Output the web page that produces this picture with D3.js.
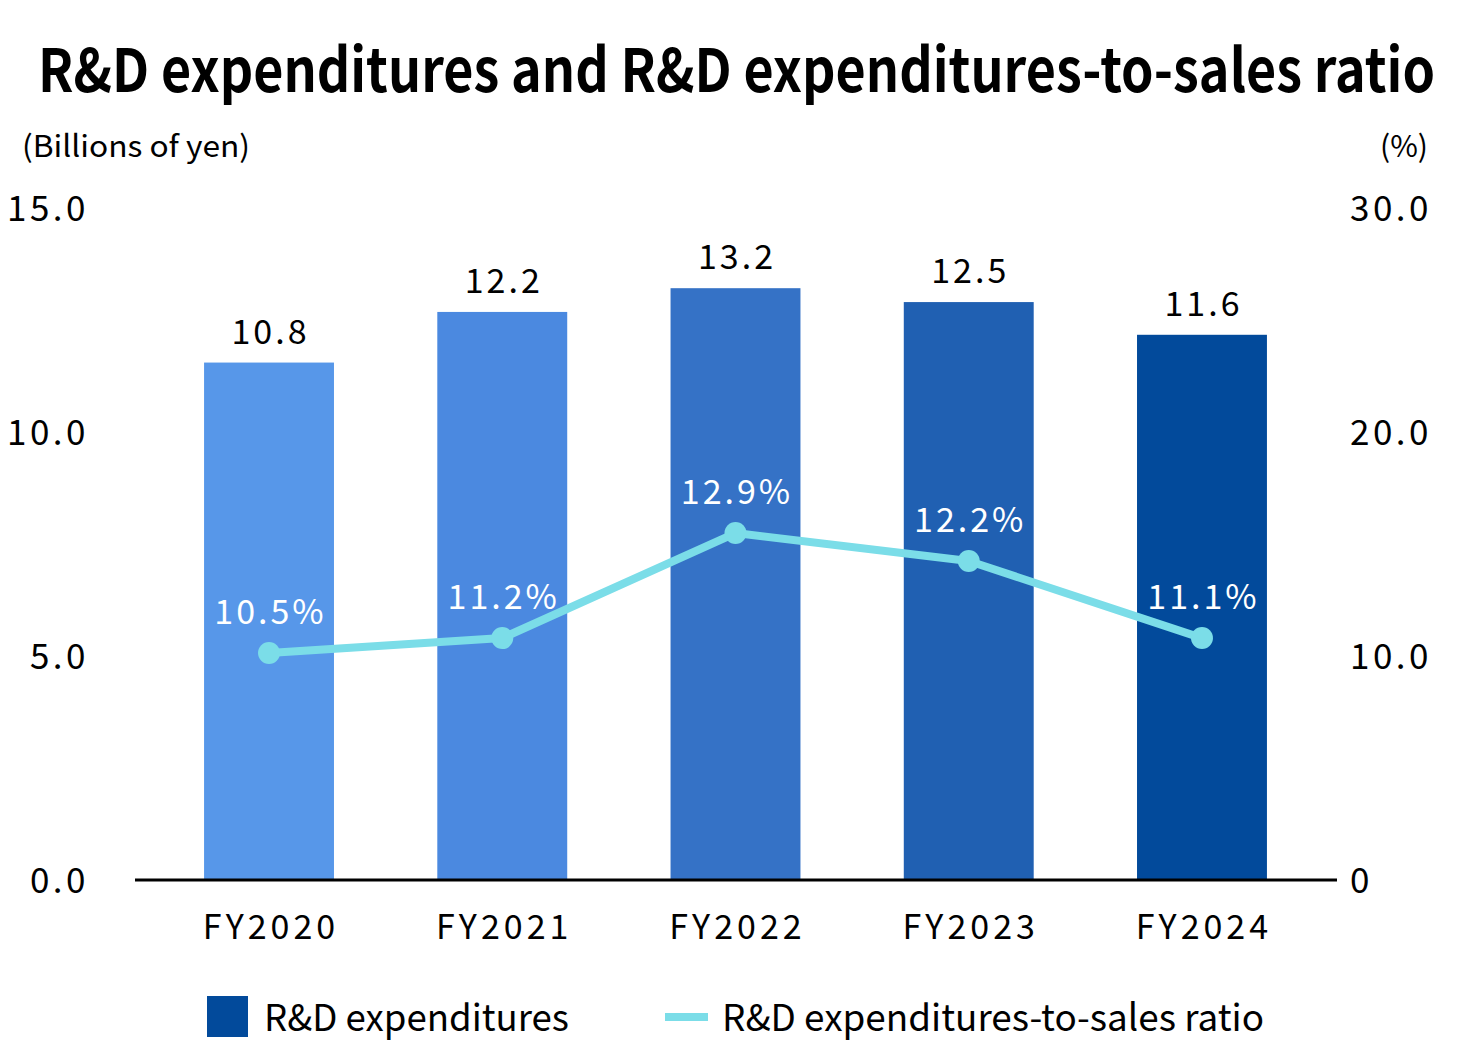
<!DOCTYPE html>
<html>
<head>
<meta charset="utf-8">
<script src="https://cdn.jsdelivr.net/npm/d3@7"></script>
<style>
  html, body { margin: 0; padding: 0; background: #fff; }
  svg { display: block; font-family: "Noto Sans CJK JP", "Noto Sans", sans-serif; }
</style>
</head>
<body>
<div id="main"></div>
<script>
// values
const years = ['FY2020', 'FY2021', 'FY2022', 'FY2023', 'FY2024'];
const expenditure = [11.55, 12.68, 13.21, 12.9, 12.17];      // billions of yen (drawn height)
const expenditureLabels = ['10.8', '12.2', '13.2', '12.5', '11.6'];
const ratio = [10.13, 10.8, 15.49, 14.24, 10.8];            // % (drawn height)
const ratioLabels = ['10.5%', '11.2%', '12.9%', '12.2%', '11.1%'];
const leftTicks = [0, 5, 10, 15];
const leftTickLabels = ['0.0', '5.0', '10.0', '15.0'];
const rightTicks = [0, 10, 20, 30];
const rightTickLabels = ['0', '10.0', '20.0', '30.0'];
const barColors = ['#5797e9', '#4b89e0', '#3572c6', '#2060b2', '#024a9b'];
const lineColor = '#7bdde8';

const width = 1480, height = 1046;
const axisLeftX = 135, axisRightX = 1337;
const baseY = 880, topY = 208;

const svg = d3.select('#main').append('svg')
  .attr('width', width)
  .attr('height', height);

// title
svg.append('text')
  .attr('x', 38).attr('y', 92)
  .attr('font-size', 60).attr('font-weight', 700)
  .attr('textLength', 1397).attr('lengthAdjust', 'spacingAndGlyphs')
  .text('R&D expenditures and R&D expenditures-to-sales ratio');

// units
svg.append('text')
  .attr('x', 22).attr('y', 157)
  .attr('font-size', 30)
  .attr('textLength', 228).attr('lengthAdjust', 'spacingAndGlyphs')
  .text('(Billions of yen)');
svg.append('text')
  .attr('x', 1428).attr('y', 157)
  .attr('font-size', 30).attr('text-anchor', 'end')
  .text('(%)');

const x = d3.scaleBand()
  .domain(years)
  .range([152.4, 1318.6])
  .paddingInner(0.443)
  .paddingOuter(0.2215);

const yLeft = d3.scaleLinear().domain([0, 15]).range([baseY, topY]);
const yRight = d3.scaleLinear().domain([0, 30]).range([baseY, topY]);

// axes (labels only)
const gl = svg.append('g')
  .attr('transform', 'translate(' + axisLeftX + ',0)')
  .call(d3.axisLeft(yLeft).tickValues(leftTicks).tickSize(0).tickPadding(46)
    .tickFormat((d, i) => leftTickLabels[i]));
const gr = svg.append('g')
  .attr('transform', 'translate(' + axisRightX + ',0)')
  .call(d3.axisRight(yRight).tickValues(rightTicks).tickSize(0).tickPadding(13)
    .tickFormat((d, i) => rightTickLabels[i]));
[gl, gr].forEach(g => {
  g.select('.domain').remove();
  g.selectAll('text')
    .attr('font-family', '"Noto Sans CJK JP", "Noto Sans", sans-serif')
    .attr('font-size', 35)
    .attr('letter-spacing', 3.5)
    .attr('fill', '#000')
    .attr('dy', '0.36em');
});

// bars
svg.selectAll('.bar')
  .data(expenditure)
  .enter().append('rect')
  .attr('class', 'bar')
  .attr('x', (d, i) => x(years[i]))
  .attr('width', x.bandwidth())
  .attr('y', d => yLeft(d))
  .attr('height', d => baseY - yLeft(d))
  .attr('fill', (d, i) => barColors[i]);

svg.selectAll('.bar-label')
  .data(expenditure)
  .enter().append('text')
  .attr('class', 'bar-label')
  .attr('x', (d, i) => x(years[i]) + x.bandwidth() / 2 + 1.5)
  .attr('y', d => yLeft(d) - 31)
  .attr('dy', '0.36em')
  .attr('text-anchor', 'middle')
  .attr('font-size', 34)
  .attr('letter-spacing', 3)
  .text((d, i) => expenditureLabels[i]);

// baseline
svg.append('line')
  .attr('x1', axisLeftX).attr('x2', axisRightX)
  .attr('y1', baseY).attr('y2', baseY)
  .attr('stroke', '#000').attr('stroke-width', 3);

// ratio line
const cx = (d, i) => x(years[i]) + x.bandwidth() / 2;
const line = d3.line()
  .x((d, i) => cx(d, i))
  .y(d => yRight(d));

svg.append('path')
  .datum(ratio)
  .attr('d', line)
  .attr('fill', 'none')
  .attr('stroke', lineColor)
  .attr('stroke-width', 8)
  .attr('stroke-linejoin', 'round');

svg.selectAll('.dot')
  .data(ratio)
  .enter().append('circle')
  .attr('class', 'dot')
  .attr('cx', cx)
  .attr('cy', d => yRight(d))
  .attr('r', 11)
  .attr('fill', lineColor);

svg.selectAll('.ratio-label')
  .data(ratio)
  .enter().append('text')
  .attr('class', 'ratio-label')
  .attr('x', (d, i) => cx(d, i) + 1.5)
  .attr('y', d => yRight(d) - 41)
  .attr('dy', '0.36em')
  .attr('text-anchor', 'middle')
  .attr('font-size', 34)
  .attr('letter-spacing', 3)
  .attr('fill', '#fff')
  .text((d, i) => ratioLabels[i]);

// category labels
svg.selectAll('.year')
  .data(years)
  .enter().append('text')
  .attr('class', 'year')
  .attr('x', d => x(d) + x.bandwidth() / 2 + 2)
  .attr('y', 927)
  .attr('dy', '0.36em')
  .attr('text-anchor', 'middle')
  .attr('font-size', 34)
  .attr('letter-spacing', 4)
  .text(d => d);

// legend
const legend = svg.append('g');
legend.append('rect')
  .attr('x', 207).attr('y', 996)
  .attr('width', 41).attr('height', 41)
  .attr('fill', barColors[4]);
legend.append('text')
  .attr('x', 264).attr('y', 1018).attr('dy', '0.36em')
  .attr('font-size', 37)
  .attr('textLength', 305).attr('lengthAdjust', 'spacingAndGlyphs')
  .text('R&D expenditures');
legend.append('line')
  .attr('x1', 665).attr('x2', 708)
  .attr('y1', 1017).attr('y2', 1017)
  .attr('stroke', lineColor).attr('stroke-width', 8);
legend.append('text')
  .attr('x', 722).attr('y', 1018).attr('dy', '0.36em')
  .attr('font-size', 37)
  .attr('textLength', 542).attr('lengthAdjust', 'spacingAndGlyphs')
  .text('R&D expenditures-to-sales ratio');
</script>
</body>
</html>
